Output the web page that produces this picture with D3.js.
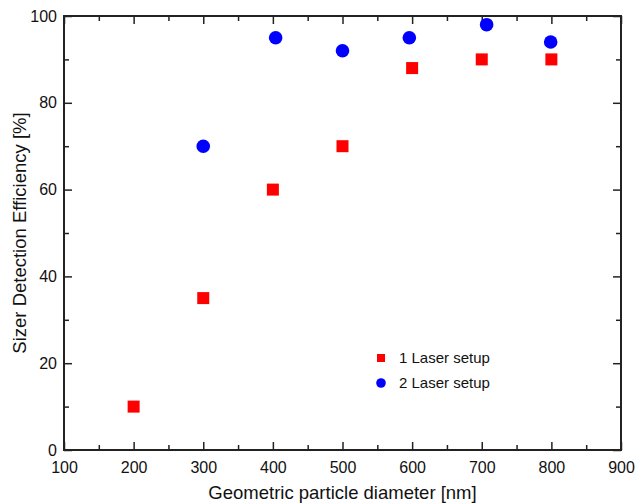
<!DOCTYPE html>
<html><head><meta charset="utf-8">
<script src="https://cdn.jsdelivr.net/npm/d3@7"></script>
<style>body{margin:0;background:#fff}svg{display:block}text{font-family:"Liberation Sans",Arial,Helvetica,sans-serif;fill:#111}</style>
</head><body>
<script>
const laser1X = [200, 300, 400, 500, 600, 700, 800];
const laser1Y = [10, 35, 60, 70, 88, 90, 90];
const laser2X = [300, 404, 500, 596, 707, 799];
const laser2Y = [70, 95, 92, 95, 98, 94];
const xMajor = [100, 200, 300, 400, 500, 600, 700, 800, 900];
const xMinor = [150, 250, 350, 450, 550, 650, 750, 850];
const yMajor = [0, 20, 40, 60, 80, 100];
const yMinor = [10, 30, 50, 70, 90];
const seriesNames = ["1 Laser setup", "2 Laser setup"];

(function(){
const W = 635, H = 504;
const m = {l: 64, r: 14, t: 16, b: 54};
const svg = d3.select("body").append("svg").attr("width", W).attr("height", H);
const x = d3.scaleLinear().domain([100, 900]).range([m.l, W - m.r]);
const y = d3.scaleLinear().domain([0, 100]).range([H - m.b, m.t]);
const g = svg.append("g");
const axisColor = "#222";
const tickFont = 16;

function styleAxis(sel){ sel.select(".domain").remove(); sel.selectAll("line").attr("stroke", axisColor).attr("stroke-width", 1.5); }

const axBottom = g.append("g").attr("transform", `translate(0,${y(0)})`)
  .call(d3.axisBottom(x).tickValues(xMajor).tickSize(-8).tickPadding(12).tickFormat(d3.format("d")));
axBottom.selectAll("text").attr("font-size", tickFont);
styleAxis(axBottom);
const axBottomMin = g.append("g").attr("transform", `translate(0,${y(0)})`)
  .call(d3.axisBottom(x).tickValues(xMinor).tickSize(-5).tickFormat(""));
styleAxis(axBottomMin);
const axTop = g.append("g").attr("transform", `translate(0,${y(100)})`)
  .call(d3.axisTop(x).tickValues(xMajor).tickSize(-8).tickFormat(""));
styleAxis(axTop);
const axTopMin = g.append("g").attr("transform", `translate(0,${y(100)})`)
  .call(d3.axisTop(x).tickValues(xMinor).tickSize(-5).tickFormat(""));
styleAxis(axTopMin);
const axLeft = g.append("g").attr("transform", `translate(${x(100)},0)`)
  .call(d3.axisLeft(y).tickValues(yMajor).tickSize(-8).tickPadding(7).tickFormat(d3.format("d")));
axLeft.selectAll("text").attr("font-size", tickFont);
styleAxis(axLeft);
const axLeftMin = g.append("g").attr("transform", `translate(${x(100)},0)`)
  .call(d3.axisLeft(y).tickValues(yMinor).tickSize(-5).tickFormat(""));
styleAxis(axLeftMin);
const axRight = g.append("g").attr("transform", `translate(${x(900)},0)`)
  .call(d3.axisRight(y).tickValues(yMajor).tickSize(-8).tickFormat(""));
styleAxis(axRight);
const axRightMin = g.append("g").attr("transform", `translate(${x(900)},0)`)
  .call(d3.axisRight(y).tickValues(yMinor).tickSize(-5).tickFormat(""));
styleAxis(axRightMin);

g.append("rect").attr("x", x(100)).attr("y", y(100))
  .attr("width", x(900) - x(100)).attr("height", y(0) - y(100))
  .attr("fill", "none").attr("stroke", axisColor).attr("stroke-width", 2);

const d1 = laser1X.map((v, i) => ({x: v, y: laser1Y[i]}));
const d2 = laser2X.map((v, i) => ({x: v, y: laser2Y[i]}));
const sq = 12;
g.selectAll(".sq").data(d1).join("rect").attr("class", "sq")
  .attr("x", d => x(d.x) - sq / 2).attr("y", d => y(d.y) - sq / 2)
  .attr("width", sq).attr("height", sq).attr("fill", "#ff0000");
g.selectAll(".ci").data(d2).join("circle").attr("class", "ci")
  .attr("cx", d => x(d.x)).attr("cy", d => y(d.y)).attr("r", 6.8).attr("fill", "#0000ff");

const lg = g.append("g");
lg.append("rect").attr("x", 377).attr("y", 354).attr("width", 8).attr("height", 8).attr("fill", "#ff0000");
lg.append("circle").attr("cx", 381).attr("cy", 383).attr("r", 4.8).attr("fill", "#0000ff");
lg.append("text").attr("x", 399).attr("y", 363).attr("font-size", 15).text(seriesNames[0]);
lg.append("text").attr("x", 399).attr("y", 388).attr("font-size", 15).text(seriesNames[1]);

svg.append("text").attr("x", (x(100) + x(900)) / 2).attr("y", 499).attr("text-anchor", "middle")
  .attr("font-size", 18.5).text("Geometric particle diameter [nm]");
svg.append("text").attr("transform", `translate(26,${(y(0) + y(100)) / 2}) rotate(-90)`)
  .attr("text-anchor", "middle").attr("font-size", 18.5).text("Sizer Detection Efficiency [%]");
})();
</script>
</body></html>
